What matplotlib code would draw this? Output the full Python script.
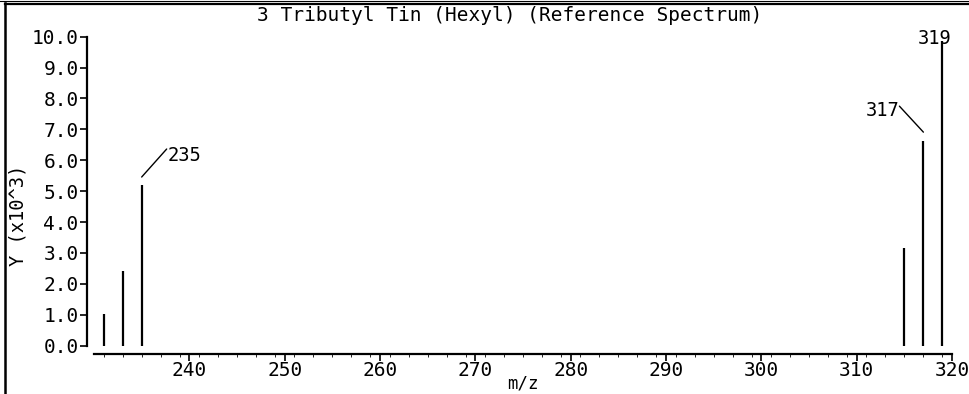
import matplotlib
matplotlib.use("Agg")
import matplotlib.pyplot as plt
from matplotlib.lines import Line2D
from matplotlib.transforms import offset_copy

# Data
mz = [231, 233, 235, 315, 317, 319]
intensity = [1.02, 2.42, 5.2, 3.17, 6.62, 9.85]
labeled_peaks = [235, 317, 319]
x_ticks = [240, 250, 260, 270, 280, 290, 300, 310, 320]
y_ticks = [0, 1, 2, 3, 4, 5, 6, 7, 8, 9, 10]
title = "3 Tributyl Tin (Hexyl) (Reference Spectrum)"

FONT = "DejaVu Sans Mono"
W, H = 969, 394
fig = plt.figure(figsize=(W / 100, H / 100), dpi=100)

def fx(px):
    return px / W

def fy(py):
    return 1 - py / H

ax = fig.add_axes([fx(94), fy(345.7), fx(952) - fx(94), fy(36.7) - fy(345.7)])
ax.set_xlim(230, 320)
ax.set_ylim(0, 10)

ax.vlines(mz, 0, intensity, color="black", lw=1.6)

for s in ["top", "right"]:
    ax.spines[s].set_visible(False)
ax.spines["left"].set_position(("outward", 5))
ax.spines["bottom"].set_position(("outward", 6))
ax.spines["left"].set_linewidth(1.6)
ax.spines["bottom"].set_linewidth(1.6)
ax.spines["left"].set_bounds(0, 10)
ax.spines["bottom"].set_bounds(230, 320)

ax.set_xticks(x_ticks)
ax.set_xticklabels([str(v) for v in x_ticks], fontfamily=FONT, fontsize=14)
ax.set_yticks(y_ticks)
ax.set_yticklabels([f"{v:.1f}" for v in y_ticks], fontfamily=FONT, fontsize=14)
ax.tick_params(axis="x", direction="out", length=5, width=1.2, pad=0)
ax.tick_params(axis="y", direction="out", length=5, width=1.2, pad=1)
ax.set_xticks([x for x in range(231, 320, 2)], minor=True)
ax.tick_params(axis="x", which="minor", length=2, width=0.6, direction="out")

ax.set_xlabel("m/z", fontfamily=FONT, fontsize=12.5, labelpad=-4)
fig.text(fx(18), fy(215), "Y (x10^3)", rotation=90, ha="center", va="center",
         fontfamily=FONT, fontsize=13.5)

# Peak labels
peaks = dict(zip(mz, intensity))

def leader(p, up, dx, dy):
    tr = offset_copy(ax.transData, fig=fig, x=0, y=up, units="dots")
    ax.annotate("", xy=(p, peaks[p]), xycoords=tr, xytext=(dx, dy),
                textcoords="offset pixels",
                arrowprops=dict(arrowstyle="-", lw=1.0, color="black",
                                shrinkA=0, shrinkB=0))

p = 235
leader(p, 8, 25, 28)
ax.annotate(str(p), xy=(p, peaks[p]), xytext=(26, 30), textcoords="offset pixels",
            ha="left", va="center", fontfamily=FONT, fontsize=13.5)

p = 317
leader(p, 9, -24, 26)
ax.annotate(str(p), xy=(p, peaks[p]), xytext=(-24, 31), textcoords="offset pixels",
            ha="right", va="center", fontfamily=FONT, fontsize=13.5)

p = 319
ax.annotate(str(p), xy=(p, peaks[p]), xytext=(-8, 3), textcoords="offset pixels",
            ha="center", va="center", fontfamily=FONT, fontsize=13.5,
            annotation_clip=False)

fig.text(fx(510), fy(15.5), title, ha="center", va="center", fontfamily=FONT, fontsize=14)

# Outer frame
fig.add_artist(Line2D([fx(5), fx(5)], [fy(3), 0], color="black", lw=1.8, transform=fig.transFigure))
fig.add_artist(Line2D([fx(5), 1], [fy(3.5), fy(3.5)], color="black", lw=1.6, transform=fig.transFigure))
fig.add_artist(Line2D([0, 1], [fy(0.5), fy(0.5)], color="black", lw=0.8, transform=fig.transFigure))

fig.savefig("out.png", dpi=100)
